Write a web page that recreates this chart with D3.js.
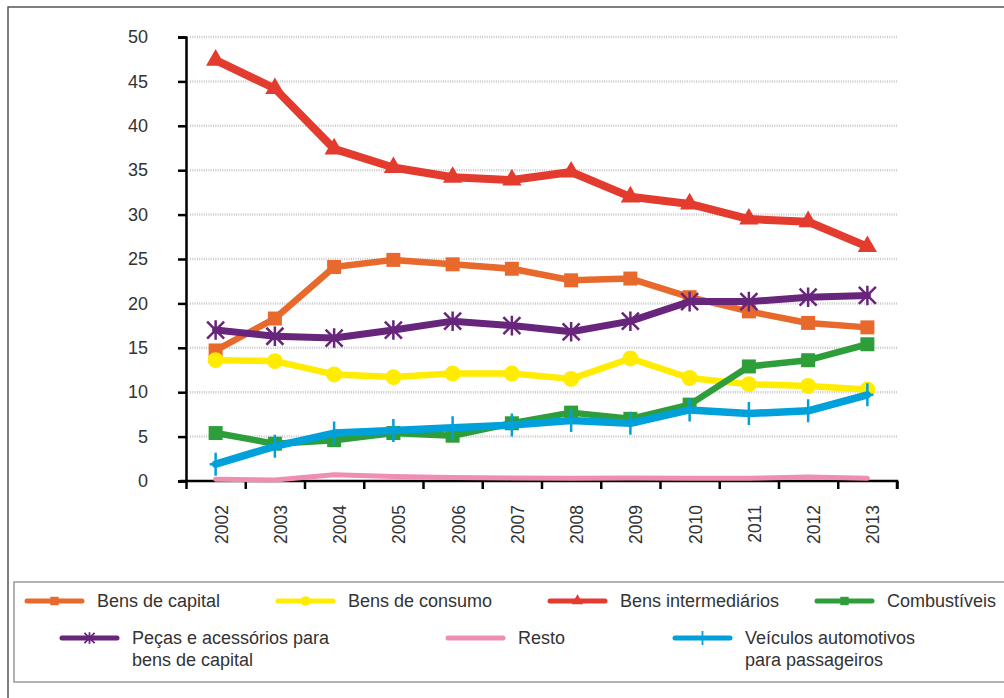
<!DOCTYPE html>
<html>
<head>
<meta charset="utf-8">
<script src="https://cdn.jsdelivr.net/npm/d3@7"></script>
<style>
  body { margin: 0; background: #fff; }
  svg { display: block; font-family: "Liberation Sans", Arial, sans-serif; }
</style>
</head>
<body>
<svg id="chart" width="1004" height="698"></svg>
<script>
// anos
const years = ["2002","2003","2004","2005","2006","2007","2008","2009","2010","2011","2012","2013"];
const yTicks = [0,5,10,15,20,25,30,35,40,45,50];

// séries (%)
const bensCapital = [14.7,18.3,24.1,24.9,24.4,23.9,22.6,22.8,20.7,19.1,17.8,17.3];
const bensConsumo = [13.6,13.5,12.0,11.7,12.1,12.1,11.5,13.8,11.6,10.9,10.7,10.3];
const bensIntermediarios = [47.4,44.2,37.4,35.3,34.2,33.9,34.8,32.0,31.2,29.5,29.2,26.4];
const combustiveis = [5.4,4.2,4.6,5.4,5.1,6.5,7.7,7.0,8.6,12.9,13.6,15.4];
const pecas = [17.0,16.3,16.1,17.0,18.0,17.5,16.8,18.0,20.2,20.2,20.7,20.9];
const resto = [0.2,0.1,0.7,0.5,0.4,0.35,0.3,0.35,0.3,0.3,0.45,0.3];
const veiculos = [1.9,3.9,5.4,5.7,6.0,6.3,6.8,6.5,8.0,7.6,7.9,9.7];

const series = [
  { name: ["Bens de capital"], values: bensCapital, color: "#E8692C", width: 6.5, marker: "square" },
  { name: ["Bens de consumo"], values: bensConsumo, color: "#FFEC00", width: 6.5, marker: "circle" },
  { name: ["Bens intermediários"], values: bensIntermediarios, color: "#E33B2E", width: 8, marker: "triangle" },
  { name: ["Combustíveis"], values: combustiveis, color: "#2E9E3B", width: 6.5, marker: "square" },
  { name: ["Peças e acessórios para", "bens de capital"], values: pecas, color: "#68257C", width: 7, marker: "star" },
  { name: ["Resto"], values: resto, color: "#F08DB3", width: 5, marker: "none" },
  { name: ["Veículos automotivos", "para passageiros"], values: veiculos, color: "#00A0DA", width: 7.5, marker: "plus" }
];

const svg = d3.select("#chart");

// moldura externa
svg.append("rect")
  .attr("x", 8).attr("y", 7)
  .attr("width", 1100).attr("height", 800)
  .attr("fill", "none").attr("stroke", "#555").attr("stroke-width", 1.5);

const x = d3.scaleBand().domain(years).range([186, 897]);
const xEdge = d3.scaleLinear().domain([0, years.length]).range([186, 897]);
const y = d3.scaleLinear().domain([0, 50]).range([481, 37]);

// grade pontilhada
svg.append("g")
  .selectAll("line")
  .data(yTicks.filter(d => d > 0))
  .join("line")
  .attr("x1", 190).attr("x2", 897)
  .attr("y1", d => y(d)).attr("y2", d => y(d))
  .attr("stroke", "#c9c9c9")
  .attr("stroke-width", 2.5)
  .attr("stroke-dasharray", "1,1.3");

// eixo y
const yAxis = svg.append("g")
  .attr("transform", "translate(186,0)")
  .call(d3.axisLeft(y).tickValues(yTicks).tickSize(8).tickPadding(30));
yAxis.select(".domain").attr("stroke", "#000").attr("stroke-width", 2.5);
yAxis.selectAll(".tick line").attr("stroke", "#000").attr("stroke-width", 2.5);
yAxis.selectAll("text")
  .attr("font-size", 18)
  .attr("fill", "#333")
  .attr("font-family", "Liberation Sans, Arial, sans-serif");

// eixo x (marcas nas divisões)
const xAxis = svg.append("g")
  .attr("transform", "translate(0,481)")
  .call(d3.axisBottom(xEdge).tickValues(d3.range(0, years.length + 1)).tickSize(8).tickFormat(""));
xAxis.select(".domain").attr("d", "M180,0H897V8").attr("stroke", "#000").attr("stroke-width", 2.5);
xAxis.selectAll(".tick line").attr("stroke", "#000").attr("stroke-width", 2.5);

svg.append("g")
  .selectAll("text")
  .data(years)
  .join("text")
  .attr("transform", d => `translate(${x(d) + x.bandwidth() / 2 + 12},505) rotate(-90)`)
  .attr("text-anchor", "end")
  .attr("font-size", 17.5)
  .attr("fill", "#333")
  .text(d => d);

// marcadores
function markerPath(type, s) {
  if (type === "square") return d3.symbol(d3.symbolSquare, 196 * s * s)();
  if (type === "circle") return d3.symbol(d3.symbolCircle, 200 * s * s)();
  if (type === "triangle") return d3.symbol(d3.symbolTriangle, 160 * s * s)();
  if (type === "star") {
    const r = 8.5 * s;
    return `M${-r},${-r}L${r},${r}M${-r},${r}L${r},${-r}M0,${-r * 1.15}V${r * 1.15}`;
  }
  if (type === "plus") {
    const h = 11.5 * s, w = 6 * s;
    return `M0,${-h}V${h}M${-w},0H${w}`;
  }
  return null;
}
const strokeMarkers = ["star", "plus"];

const line = d3.line()
  .x((d, i) => x(years[i]) + x.bandwidth() / 2)
  .y(d => y(d));

const plot = svg.append("g");
series.forEach(s => {
  const g = plot.append("g");
  g.append("path")
    .attr("d", line(s.values))
    .attr("fill", "none")
    .attr("stroke", s.color)
    .attr("stroke-width", s.width)
    .attr("stroke-linejoin", "round")
    .attr("stroke-linecap", "round");
  if (s.marker !== "none") {
    const isStroke = strokeMarkers.includes(s.marker);
    g.selectAll("path.m")
      .data(s.values)
      .join("path")
      .attr("class", "m")
      .attr("transform", (d, i) => `translate(${x(years[i]) + x.bandwidth() / 2},${y(d)})`)
      .attr("d", markerPath(s.marker, 1))
      .attr("fill", isStroke ? "none" : s.color)
      .attr("stroke", s.color)
      .attr("stroke-width", isStroke ? 2.5 : 0);
  }
});

// legenda
svg.append("rect")
  .attr("x", 14).attr("y", 582)
  .attr("width", 1100).attr("height", 100)
  .attr("fill", "#fff").attr("stroke", "#999").attr("stroke-width", 1.5);

const legendPos = [
  { x: 27, y: 601 },
  { x: 278, y: 601 },
  { x: 550, y: 601 },
  { x: 817, y: 601 },
  { x: 62, y: 638 },
  { x: 448, y: 638 },
  { x: 675, y: 638 }
];

const legend = svg.append("g");
series.forEach((s, i) => {
  const p = legendPos[i];
  const g = legend.append("g").attr("transform", `translate(${p.x},${p.y})`);
  g.append("line")
    .attr("x1", 0).attr("x2", 55)
    .attr("y1", 0).attr("y2", 0)
    .attr("stroke", s.color)
    .attr("stroke-width", 5)
    .attr("stroke-linecap", "round");
  if (s.marker !== "none") {
    const isStroke = strokeMarkers.includes(s.marker);
    g.append("path")
      .attr("transform", "translate(27.5,0)")
      .attr("d", markerPath(s.marker, 0.6))
      .attr("fill", isStroke ? "none" : s.color)
      .attr("stroke", s.color)
      .attr("stroke-width", isStroke ? 1.8 : 0);
  }
  const t = g.append("text")
    .attr("x", 70)
    .attr("y", 6)
    .attr("font-size", 18)
    .attr("fill", "#333");
  s.name.forEach((ln, j) => {
    t.append("tspan").attr("x", 70).attr("dy", j === 0 ? 0 : 22).text(ln);
  });
});
</script>
</body>
</html>
